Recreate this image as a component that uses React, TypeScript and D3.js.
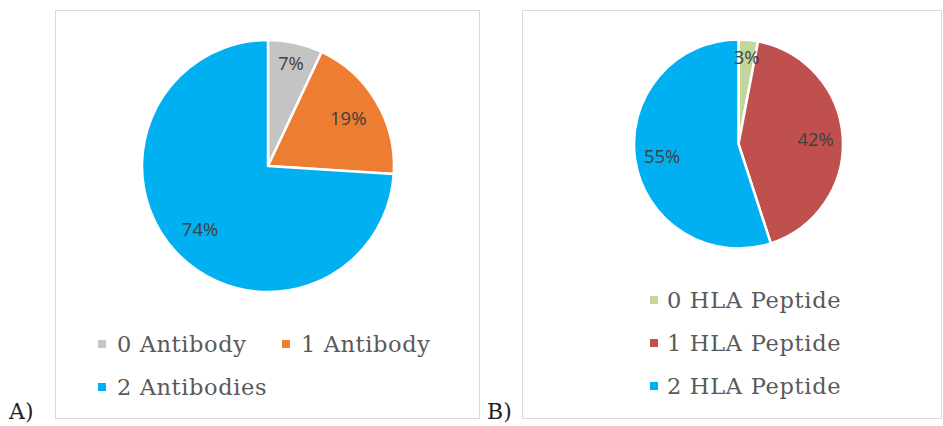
import React, { useEffect, useRef } from "react";
import * as d3 from "d3";

// Panel A
const antibodyLabels = ["0 Antibody", "1 Antibody", "2 Antibodies"];
const antibodyValues = [7, 19, 74];
const antibodyColors = ["#c4c4c4", "#ed7d31", "#00b0f0"];

// Panel B
const peptideLabels = ["0 HLA Peptide", "1 HLA Peptide", "2 HLA Peptide"];
const peptideValues = [3, 42, 55];
const peptideColors = ["#c3d69b", "#c0504d", "#00b0f0"];

const W = 943;
const H = 426;

type Slice = { name: string; value: number; color: string };

function drawPie(
  g: d3.Selection<SVGGElement, unknown, null, undefined>,
  data: Slice[],
  cx: number,
  cy: number,
  radius: number
) {
  const pie = d3
    .pie<Slice>()
    .sort(null)
    .value((d) => d.value);
  const arcs = pie(data);
  const arc = d3.arc<d3.PieArcDatum<Slice>>().innerRadius(0).outerRadius(radius);

  const pg = g.append("g").attr("transform", `translate(${cx},${cy})`);
  pg.selectAll("path")
    .data(arcs)
    .enter()
    .append("path")
    .attr("d", arc)
    .attr("fill", (d) => d.data.color)
    .attr("stroke", "#fff")
    .attr("stroke-width", 2.5)
    .attr("stroke-linejoin", "round");

  // small slices get their label pushed further out, like Excel's best fit
  pg.selectAll("text")
    .data(arcs)
    .enter()
    .append("text")
    .attr("transform", (d) => {
      const k = d.data.value < 10 ? 0.83 : 0.74;
      const lab = d3.arc<d3.PieArcDatum<Slice>>().innerRadius(radius * k).outerRadius(radius * k);
      return `translate(${lab.centroid(d)})`;
    })
    .attr("text-anchor", "middle")
    .attr("dy", "0.35em")
    .style("font-family", "'Open Sans', sans-serif")
    .style("font-size", "18.5px")
    .style("fill", "#404040")
    .text((d) => `${d.data.value}%`);
}

function drawLegend(
  g: d3.Selection<SVGGElement, unknown, null, undefined>,
  data: Slice[],
  pos: [number, number][],
  spacing: number,
  gap: number
) {
  const items = g
    .selectAll("g.legend")
    .data(data)
    .enter()
    .append("g")
    .attr("class", "legend")
    .attr("transform", (_d, i) => `translate(${pos[i][0]},${pos[i][1]})`);
  items
    .append("rect")
    .attr("x", 0)
    .attr("y", -4)
    .attr("width", 8)
    .attr("height", 8)
    .attr("fill", (d) => d.color);
  items
    .append("text")
    .attr("x", gap)
    .attr("dy", "0.36em")
    .style("font-family", "'DejaVu Serif', serif")
    .style("font-size", "22.5px")
    .style("letter-spacing", spacing + "px")
    .style("fill", "#595959")
    .text((d) => d.name);
}

export default function App() {
  const ref = useRef<SVGSVGElement>(null);

  useEffect(() => {
    const svg = d3.select(ref.current);
    svg.selectAll("*").remove();
    const root = svg.append("g");

    // frames
    root.append("rect").attr("x", 55.5).attr("y", 10.5).attr("width", 424).attr("height", 408)
      .attr("fill", "#fff").attr("stroke", "#d9d9d9");
    root.append("rect").attr("x", 522.5).attr("y", 10.5).attr("width", 419).attr("height", 408)
      .attr("fill", "#fff").attr("stroke", "#d9d9d9");

    const a: Slice[] = antibodyLabels.map((name, i) => ({
      name,
      value: antibodyValues[i],
      color: antibodyColors[i],
    }));
    const b: Slice[] = peptideLabels.map((name, i) => ({
      name,
      value: peptideValues[i],
      color: peptideColors[i],
    }));

    drawPie(root, a, 268, 166, 126);
    drawPie(root, b, 738.5, 144, 104.5);

    drawLegend(root.append("g"), a, [[98, 344], [282, 344], [98, 387]], 0.6, 19);
    drawLegend(root.append("g"), b, [[650, 300], [650, 343], [650, 386]], 0.7, 17);

    // panel tags
    root.append("text").attr("x", 9).attr("y", 419)
      .style("font-family", "'DejaVu Serif', serif").style("font-size", "22px").style("fill", "#222")
      .text("A)");
    root.append("text").attr("x", 487).attr("y", 419)
      .style("font-family", "'DejaVu Serif', serif").style("font-size", "22px").style("fill", "#222")
      .text("B)");
  }, []);

  return (
    <svg
      ref={ref}
      width={W}
      height={H}
      style={{ position: "absolute", left: 0, top: 0, background: "#fff" }}
    />
  );
}
